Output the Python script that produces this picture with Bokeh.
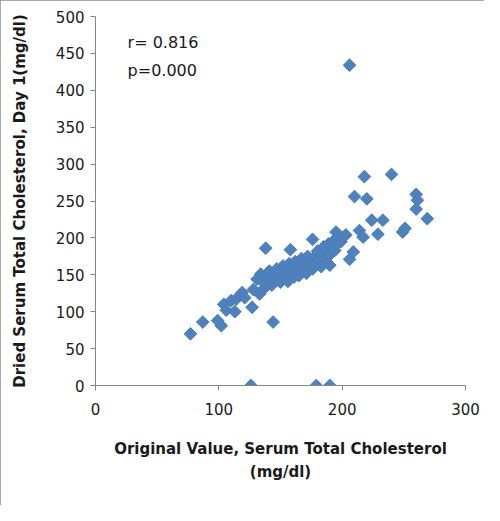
import numpy as np
from bokeh.plotting import figure
from bokeh.models import Range1d, Label, ColumnDataSource
from bokeh.embed import file_html
from bokeh.resources import INLINE

# Original value (x) vs dried day-1 value (y), mg/dl
orig_value = [
    77, 87, 99, 102, 104, 106, 110, 113, 114, 117, 119, 121, 127, 128, 131, 133, 134, 144,
    126, 179, 190,
    138, 158, 176,
    136, 137, 139, 140, 141, 142, 143, 145, 146, 147, 148, 150, 151, 152, 153, 155, 156, 157,
    158, 160, 161, 162, 163, 165, 166, 167, 168, 170, 171, 172, 173, 175, 176, 178, 179, 180,
    181, 183, 184, 185, 186, 188, 189, 190, 192, 193, 194, 196, 197, 199, 201,
    190, 195, 203, 206, 209, 214, 217, 210, 218, 220, 224, 229, 233, 240, 249, 251, 260, 261,
    260, 269, 206,
]
dried_day1 = [
    70, 86, 88, 81, 110, 102, 115, 100, 117, 122, 126, 119, 106, 130, 144, 124, 151, 86,
    0, 0, 0,
    186, 184, 198,
    140, 132, 147, 138, 155, 145, 136, 150, 142, 158, 147, 140, 153, 162, 145, 155, 141, 165,
    150, 158, 147, 168, 155, 149, 162, 172, 155, 165, 152, 175, 160, 168, 158, 175, 165, 182,
    170, 161, 178, 188, 172, 182, 192, 177, 188, 196, 183, 192, 200, 195, 201,
    163, 208, 204, 171, 181, 210, 201, 256, 283, 253, 224, 205, 224, 286, 208, 213, 259, 251,
    239, 226, 434,
]

x_ticks = [0, 100, 200, 300]
y_ticks = [0, 50, 100, 150, 200, 250, 300, 350, 400, 450, 500]
stats_text = ["r= 0.816", "p=0.000"]

x_title = "Original Value, Serum Total Cholesterol\n(mg/dl)"
y_title = "Dried Serum Total Cholesterol, Day 1(mg/dl)"

FONT = "DejaVu Sans"

p = figure(
    width=484, height=505,
    x_range=Range1d(0, 300), y_range=Range1d(0, 500),
    output_backend="svg", toolbar_location=None,
    min_border_left=95, min_border_right=19, min_border_top=16, min_border_bottom=120,
)
p.styles = {"outline": "1px solid #8c8c8c", "outline-offset": "-1px"}

src = ColumnDataSource(dict(x=orig_value, y=dried_day1))
p.scatter("x", "y", source=src, marker="square", angle=np.pi / 4, size=9,
          fill_color="#4F81BD", line_color="#4A7EBB", line_width=1)

p.xgrid.visible = False
p.ygrid.visible = False
p.outline_line_color = None
p.background_fill_color = "white"
p.border_fill_color = "white"

for ax in (p.xaxis[0], p.yaxis[0]):
    ax.axis_line_color = "#868686"
    ax.major_tick_line_color = "#868686"
    ax.minor_tick_line_color = None
    ax.major_tick_in = 0
    ax.major_tick_out = 5
    ax.major_label_text_font = FONT
    ax.major_label_text_font_size = "15px"
    ax.major_label_text_color = "#1a1a1a"
    ax.axis_label_text_font = FONT
    ax.axis_label_text_font_size = "15px"
    ax.axis_label_text_font_style = "bold"
    ax.axis_label_text_color = "#1a1a1a"

p.xaxis.ticker = x_ticks
p.yaxis.ticker = y_ticks
p.xaxis.axis_label = x_title
p.yaxis.axis_label = y_title
p.xaxis.major_label_standoff = 12
p.xaxis.axis_label_standoff = 22
p.xaxis.axis_label_text_line_height = 1.3
p.yaxis.major_label_standoff = 6
p.yaxis.axis_label_standoff = 24

p.add_layout(Label(x=26, y=465, text=stats_text[0], text_baseline="middle", text_align="left",
                   text_font=FONT, text_font_size="16px", text_color="#1a1a1a"))
p.add_layout(Label(x=26, y=427, text=stats_text[1], text_baseline="middle", text_align="left",
                   text_font=FONT, text_font_size="16px", text_color="#1a1a1a"))

open("out.html", "w").write(file_html(p, INLINE))
